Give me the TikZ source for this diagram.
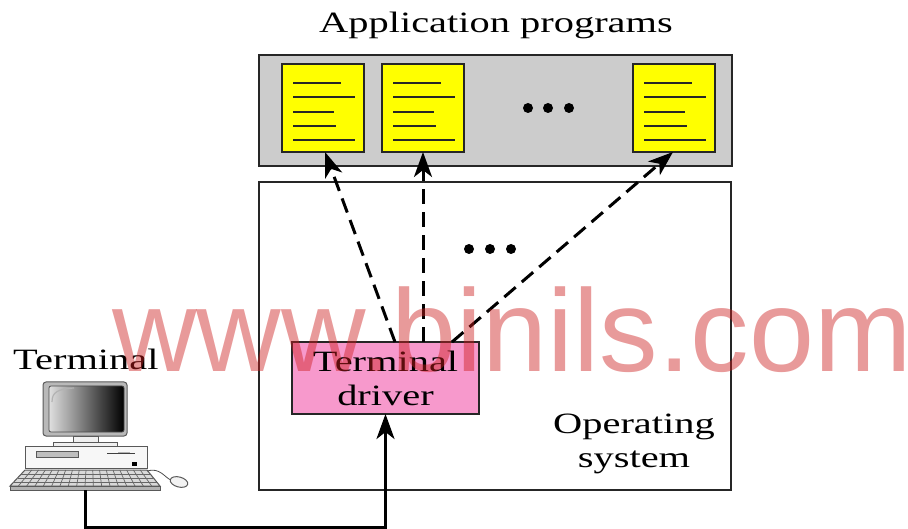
\documentclass[tikz,border=0pt]{standalone}
\usepackage{fontspec}
\setmainfont{Liberation Serif}[FakeStretch=1.37]
\newfontfamily\wmfont{Liberation Sans}
\usetikzlibrary{arrows.meta,calc}

\definecolor{appgray}{RGB}{204,204,204}
\definecolor{docyellow}{RGB}{255,255,0}
\definecolor{drvpink}{RGB}{247,153,204}
\definecolor{wmred}{RGB}{205,30,30}

\tikzset{
  lbl/.style={inner sep=0pt, font=\fontsize{29.5}{34}\selectfont},
  frame/.style={draw=black!85, line width=2pt, inner sep=0pt, outer sep=0pt},
  doc/.style={frame, fill=docyellow, minimum width=82pt, minimum height=88pt},
  docline/.style={line width=2pt, black!85},
  dot/.style={circle, fill=black, inner sep=0pt, minimum size=10pt},
  flow/.style={line width=3pt, -{Stealth[length=25pt,width=18pt,inset=7pt]}},
  call/.style={flow, dash pattern=on 15pt off 8pt},
  part/.style={draw=black!65, line width=1pt},
  wm/.style={inner sep=0pt, text=wmred, text opacity=0.45,
             font=\wmfont\fontsize{117}{117}\selectfont},
}

\begin{document}
\begin{tikzpicture}[x=1pt,y=-1pt]
\useasboundingbox (0,0) rectangle (908,529);

% application programs
\node[lbl, anchor=base] (title) at (496,33) {Application programs};
\node[frame, fill=appgray, minimum width=473pt, minimum height=111pt] (apps) at (495.5,110.5) {};
\node[doc] (d1) at (323,108) {};
\node[doc] (d2) at (423,108) {};
\node[doc] (d3) at (674,108) {};
\foreach \d in {d1,d2,d3}
  \foreach \dy/\len in {19/48,33/62,48/41,62/43,76/62}
    \draw[docline] ($(\d.north west)+(11,\dy)$) -- ++(\len,0);
\node[dot] (a1) at (528,108) {};
\node[dot] (a2) at (548,108) {};
\node[dot] (a3) at (569,108) {};

% operating system
\node[frame, minimum width=472pt, minimum height=308pt] (os) at (495,336) {};
\node[lbl, align=center] (oslabel) at (634,444) {Operating\\system};
\node[dot] (o1) at (469,249) {};
\node[dot] (o2) at (490,249) {};
\node[dot] (o3) at (511,249) {};

% terminal driver
\node[frame, fill=drvpink, minimum width=187pt, minimum height=72pt, lbl, align=center]
  (driver) at (385.5,378) {Terminal\\driver};

\draw[call] ([xshift=9.5pt]driver.north) -- ([xshift=2pt]d1.south);
\draw[call] ([xshift=37.5pt]driver.north) -- (d2.south);
\draw[call] ([xshift=66.5pt]driver.north) -- ([xshift=-1pt]d3.south);

% terminal
\node[lbl, anchor=base west] (termlabel) at (13,370) {Terminal};
% monitor
\draw[part, fill=gray!55, rounded corners=3pt] (43,382) rectangle (127,436);
\shade[left color=gray!25, middle color=white, right color=black, rounded corners=2pt]
  (49,386) rectangle (124,432);
\draw[black!70, line width=0.8pt, rounded corners=2pt] (49,386) rectangle (124,432);
\draw[gray!60, line width=1.2pt] (52,402) .. controls (52,392) and (58,389) .. (74,388);
\draw[part, fill=gray!12] (73,436) rectangle (98,442);
\draw[part, fill=gray!12] (53,442) rectangle (117,446);
% system unit
\draw[part, fill=gray!6] (25,446) rectangle (147,468);
\draw[part, fill=gray!50] (36,451) rectangle (78,457);
\draw[black!75, line width=1.2pt] (107,453.5) -- (135,453.5);
\draw[gray!60, line width=0.8pt] (118,452) -- (130,452);
\fill[black] (132,462) rectangle (137,466);
% keyboard
\draw[part, fill=gray!30] (25,470) -- (147,470) -- (160,486) -- (10,486) -- cycle;
\draw[part, fill=gray!60] (10,486) rectangle (160,490);
\foreach \i in {1,...,17}
  \draw[black!60, line width=0.7pt] ({25+122*\i/18},470) -- ({10+150*\i/18},486);
\foreach \y in {474,478,482}
  \draw[black!60, line width=0.7pt] ({25-15*(\y-470)/16},\y) -- ({147+13*(\y-470)/16},\y);
% mouse
\draw[gray!60!black, line width=0.8pt] (147,471) .. controls (160,467) and (165,478) .. (171,480);
\draw[part, fill=gray!10, rotate around={-15:(179,482)}] (179,482) ellipse [x radius=9, y radius=5];
\coordinate (kbd) at (85,490);
\coordinate (bend) at (85,527);

\draw[flow] (kbd) -- (bend) -| (driver.south);

% watermark
\node[wm, anchor=base west] (wmark) at (112,372) {www.binils.com};
\end{tikzpicture}
\end{document}
